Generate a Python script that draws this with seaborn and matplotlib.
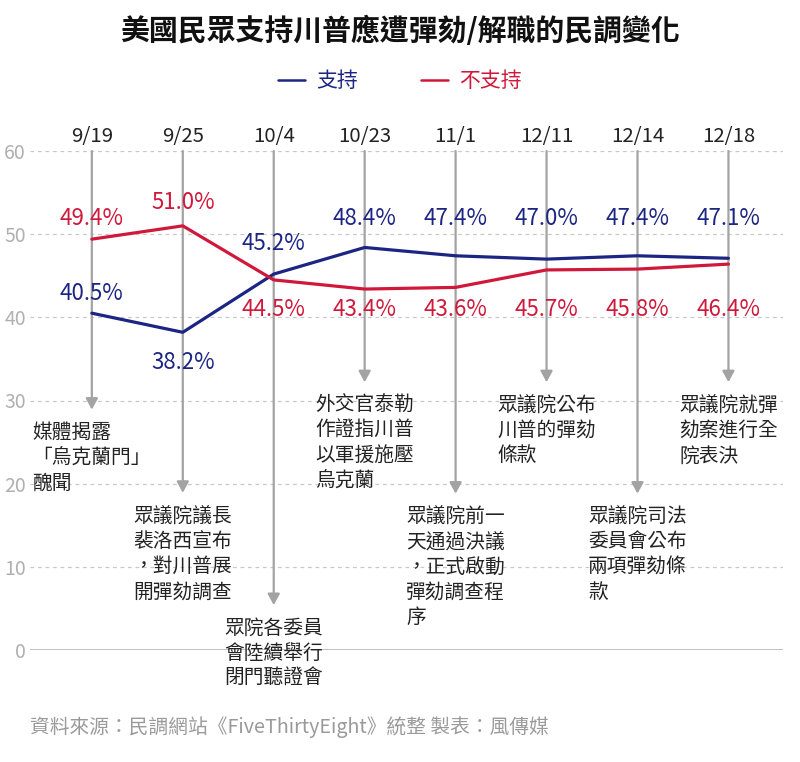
import matplotlib
matplotlib.use("Agg")
import matplotlib.pyplot as plt
import seaborn as sns
import pandas as pd
from matplotlib.lines import Line2D

# ---- data ----
dates = ["9/19", "9/25", "10/4", "10/23", "11/1", "12/11", "12/14", "12/18"]
support = [40.5, 38.2, 45.2, 48.4, 47.4, 47.0, 47.4, 47.1]
oppose = [49.4, 51.0, 44.5, 43.4, 43.6, 45.7, 45.8, 46.4]
series_names = ["支持", "不支持"]
yticks = [0, 10, 20, 30, 40, 50, 60]
events = [
    "媒體揭露\n「烏克蘭門」\n醜聞",
    "眾議院議長\n裴洛西宣布\n，對川普展\n開彈劾調查",
    "眾院各委員\n會陸續舉行\n閉門聽證會",
    "外交官泰勒\n作證指川普\n以軍援施壓\n烏克蘭",
    "眾議院前一\n天通過決議\n，正式啟動\n彈劾調查程\n序",
    "眾議院公布\n川普的彈劾\n條款",
    "眾議院司法\n委員會公布\n兩項彈劾條\n款",
    "眾議院就彈\n劾案進行全\n院表決",
]
title = "美國民眾支持川普應遭彈劾/解職的民調變化"
source = "資料來源：民調網站《FiveThirtyEight》統整 製表：風傳媒"

# ---- style / layout ----
BLUE = "#1c2583"
RED = "#d0193a"
GREY = "#a3a3a3"
arrow_tips = [28.9, 18.9, 5.4, 32.2, 18.8, 32.2, 18.8, 32.2]
blue_label_y = [42.9, 34.6, 48.9, 51.9, 51.9, 51.9, 51.9, 51.9]
red_label_y = [51.9, 53.8, 40.9, 40.9, 40.9, 40.9, 40.9, 40.9]

sns.set_theme(style="white")
plt.rcParams["font.family"] = ["Noto Sans CJK TC", "DejaVu Sans"]

df = pd.DataFrame({
    "x": list(range(len(dates))) * 2,
    "value": support + oppose,
    "series": [series_names[0]] * len(dates) + [series_names[1]] * len(dates),
})

fig = plt.figure(figsize=(8, 7.62), dpi=100)
ax = fig.add_axes([30 / 800, 1 - 650 / 762, (783 - 30) / 800, (650 - 151) / 762])

# vertical event lines with arrows
for i, tip in enumerate(arrow_tips):
    ax.annotate("", xy=(i, tip), xytext=(i, 60),
                arrowprops=dict(arrowstyle="-|>,head_length=0.55,head_width=0.3",
                                color=GREY, lw=1.6, shrinkA=0, shrinkB=0),
                annotation_clip=False, zorder=1)
    ax.text(i, tip - 1.5, events[i], ha="center", va="top", multialignment="left",
            fontsize=14.2, color="#222222", linespacing=1.27, clip_on=False)

sns.lineplot(data=df, x="x", y="value", hue="series", palette=[BLUE, RED],
             linewidth=2.3, ax=ax, legend=False, zorder=3)

for i in range(len(dates)):
    ax.text(i, blue_label_y[i], f"{support[i]:.1f}%", ha="center", va="center",
            fontsize=16, color=BLUE, zorder=4)
    ax.text(i, red_label_y[i], f"{oppose[i]:.1f}%", ha="center", va="center",
            fontsize=16, color=RED, zorder=4)

ax.set_xlim(-0.68, 7.6)
ax.set_ylim(0, 60)
ax.set_yticks(yticks)
ax.set_yticklabels([str(t) for t in yticks], color="#b0b0b0", fontsize=14)
for t in yticks[1:]:
    ax.axhline(t, color="#c8c8c8", lw=0.9, ls=(0, (3, 3)), zorder=0)
ax.axhline(0, color="#b5b5b5", lw=1.2, zorder=0)
for s in ax.spines.values():
    s.set_visible(False)
ax.xaxis.tick_top()
ax.set_xticks(range(len(dates)))
ax.set_xticklabels(dates, fontsize=14.7, color="#222222")
ax.tick_params(axis="x", length=0, pad=3)
ax.tick_params(axis="y", length=0, pad=3)
ax.set_xlabel("")
ax.set_ylabel("")
ax.grid(False)

fig.text(0.5, 1 - 31 / 762, title, ha="center", va="center", fontsize=20.8,
         fontweight="bold", color="#111111")

handles = [Line2D([], [], color=BLUE, lw=1.8), Line2D([], [], color=RED, lw=1.8)]
leg = fig.legend(handles, series_names, loc="center", bbox_to_anchor=(0.5, 1 - 81 / 762),
                 ncol=2, frameon=False, handlelength=1.3, handletextpad=0.55,
                 columnspacing=3.0, fontsize=15)
for txt, c in zip(leg.get_texts(), [BLUE, RED]):
    txt.set_color(c)

fig.text(30 / 800, 1 - 727 / 762, source, ha="left", va="center", fontsize=14.2,
         color="#9a9a9a")

fig.savefig("out.png", dpi=100)
